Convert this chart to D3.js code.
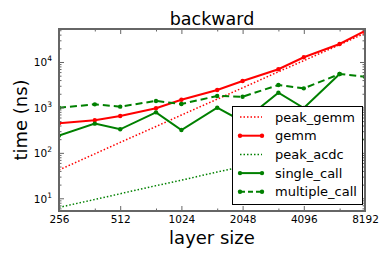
<!DOCTYPE html>
<html>
<head>
<meta charset="utf-8">
<script src="https://cdn.jsdelivr.net/npm/d3@7"></script>
<style>
  body { margin: 0; background: #fff; }
  text { font-family: "DejaVu Sans", sans-serif; }
</style>
</head>
<body>
<div id="chart"></div>
<script>
// layer sizes and measured times (ns)
var sizes = [256, 384, 512, 768, 1024, 1536, 2048, 3072, 4096, 6144, 8192];
var peakGemm = [42, 95, 170, 380, 680, 1520, 2700, 6100, 10700, 24000, 43000];
var gemm = [448, 521, 648, 958, 1480, 2420, 3820, 6920, 12700, 24900, 48200];
var peakAcdc = [6.3, 9.4, 12.6, 19, 25, 38, 50, 76, 100, 150, 200];
var singleCall = [240, 440, 330, 780, 318, 986, 490, 2110, 970, 5440, null];
var multipleCall = [986, 1170, 1040, 1390, 1190, 1790, 1720, 3120, 2630, 5440, 4750];

var xMajor = [256, 512, 1024, 2048, 4096, 8192];
var xMinor = [384, 768, 1536, 3072, 6144];
var yMajor = [10, 100, 1000, 10000];

(function () {
    var width = 390, height = 260;
    var plotLeft = 59, plotRight = 365, plotTop = 29, plotBottom = 211;

    var svg = d3.select("#chart").append("svg")
        .attr("width", width)
        .attr("height", height);

    var x = d3.scaleLog().base(2).domain([256, 8192]).range([plotLeft, plotRight]);
    var y = d3.scaleLog().domain([5.25, 53260]).range([plotBottom, plotTop]);

    var yMinor = [];
    [1, 10, 100, 1000, 10000].forEach(function (p) {
        for (var k = 2; k <= 9; k++) {
            var v = p * k;
            if (v > 5.25 && v < 53260) yMinor.push(v);
        }
    });

    svg.append("defs").append("clipPath").attr("id", "plot-clip")
        .append("rect")
        .attr("x", plotLeft).attr("y", plotTop)
        .attr("width", plotRight - plotLeft).attr("height", plotBottom - plotTop);

    var series = [
        {name: "peak_gemm", values: peakGemm, color: "#ff0000", dash: "1.5,2", width: 1.5, marker: false},
        {name: "gemm", values: gemm, color: "#ff0000", dash: null, width: 2, marker: true},
        {name: "peak_acdc", values: peakAcdc, color: "#008000", dash: "1.5,2", width: 1.5, marker: false},
        {name: "single_call", values: singleCall, color: "#008000", dash: null, width: 2, marker: true},
        {name: "multiple_call", values: multipleCall, color: "#008000", dash: "7,4", width: 2, marker: true}
    ];

    var line = d3.line()
        .defined(function (d) { return d.v != null; })
        .x(function (d) { return x(d.s); })
        .y(function (d) { return y(d.v); });

    var plot = svg.append("g").attr("clip-path", "url(#plot-clip)");

    series.forEach(function (s) {
        var pts = sizes.map(function (sz, i) { return {s: sz, v: s.values[i]}; });
        plot.append("path")
            .datum(pts)
            .attr("fill", "none")
            .attr("stroke", s.color)
            .attr("stroke-width", s.width)
            .attr("stroke-dasharray", s.dash)
            .attr("d", line);
        if (s.marker) {
            plot.selectAll(null)
                .data(pts.filter(function (d) { return d.v != null; }))
                .enter().append("circle")
                .attr("cx", function (d) { return x(d.s); })
                .attr("cy", function (d) { return y(d.v); })
                .attr("r", 2.2)
                .attr("fill", s.color);
        }
    });

    // axes (ticks point inward, on all four sides)
    var axisColor = "#666";

    function styleAxis(g) {
        g.select(".domain").remove();
        g.selectAll(".tick line").attr("stroke", axisColor).attr("stroke-width", 1);
    }

    svg.append("g").attr("transform", "translate(0," + plotBottom + ")")
        .call(d3.axisBottom(x).tickValues(xMajor).tickSize(-5).tickPadding(5)
            .tickFormat(d3.format("d")))
        .call(styleAxis)
        .call(function (g) {
            g.selectAll("text").attr("font-size", 10.5).attr("fill", "#000")
                .attr("font-family", "DejaVu Sans");
        });

    svg.append("g").attr("transform", "translate(0," + plotBottom + ")")
        .call(d3.axisBottom(x).tickValues(xMinor).tickSize(-2.5).tickFormat(""))
        .call(styleAxis);

    svg.append("g").attr("transform", "translate(0," + plotTop + ")")
        .call(d3.axisTop(x).tickValues(xMajor).tickSize(-5).tickFormat(""))
        .call(styleAxis);

    svg.append("g").attr("transform", "translate(0," + plotTop + ")")
        .call(d3.axisTop(x).tickValues(xMinor).tickSize(-2.5).tickFormat(""))
        .call(styleAxis);

    var yAxis = svg.append("g").attr("transform", "translate(" + plotLeft + ",0)")
        .call(d3.axisLeft(y).tickValues(yMajor).tickSize(-5).tickFormat(""))
        .call(styleAxis);

    yAxis.selectAll(".tick").each(function (d) {
        var t = d3.select(this).append("text")
            .attr("x", -7)
            .attr("y", 4)
            .attr("text-anchor", "end")
            .attr("fill", "#000")
            .attr("font-size", 10.5);
        t.append("tspan").text("10");
        t.append("tspan").attr("dy", -5).attr("font-size", 7.5)
            .text(Math.round(Math.log10(d)));
    });

    svg.append("g").attr("transform", "translate(" + plotLeft + ",0)")
        .call(d3.axisLeft(y).tickValues(yMinor).tickSize(-2.5).tickFormat(""))
        .call(styleAxis);

    svg.append("g").attr("transform", "translate(" + plotRight + ",0)")
        .call(d3.axisRight(y).tickValues(yMajor).tickSize(-5).tickFormat(""))
        .call(styleAxis);

    svg.append("g").attr("transform", "translate(" + plotRight + ",0)")
        .call(d3.axisRight(y).tickValues(yMinor).tickSize(-2.5).tickFormat(""))
        .call(styleAxis);

    svg.append("rect")
        .attr("x", plotLeft).attr("y", plotTop)
        .attr("width", plotRight - plotLeft).attr("height", plotBottom - plotTop)
        .attr("fill", "none")
        .attr("stroke", axisColor)
        .attr("stroke-width", 2);

    // titles
    svg.append("text")
        .attr("x", (plotLeft + plotRight) / 2).attr("y", 25)
        .attr("text-anchor", "middle")
        .attr("font-size", 17.5)
        .text("backward");

    svg.append("text")
        .attr("x", (plotLeft + plotRight) / 2).attr("y", 244)
        .attr("text-anchor", "middle")
        .attr("font-size", 18)
        .text("layer size");

    svg.append("text")
        .attr("transform", "translate(27," + ((plotTop + plotBottom) / 2) + ") rotate(-90)")
        .attr("text-anchor", "middle")
        .attr("font-size", 18)
        .text("time (ns)");

    // legend
    var legend = svg.append("g");
    legend.append("rect")
        .attr("x", 232.5).attr("y", 106.5)
        .attr("width", 130).attr("height", 98)
        .attr("fill", "#fff")
        .attr("stroke", "#000")
        .attr("stroke-width", 1);

    series.forEach(function (s, i) {
        var ly = 117 + i * 18.7;
        legend.append("line")
            .attr("x1", 240).attr("x2", 262)
            .attr("y1", ly).attr("y2", ly)
            .attr("stroke", s.color)
            .attr("stroke-width", s.width)
            .attr("stroke-dasharray", s.dash === "7,4" ? "5,3" : s.dash);
        if (s.marker) {
            [240, 262].forEach(function (mx) {
                legend.append("circle")
                    .attr("cx", mx).attr("cy", ly).attr("r", 2.2)
                    .attr("fill", s.color);
            });
        }
        legend.append("text")
            .attr("x", 275).attr("y", ly + 4.5)
            .attr("font-size", 13)
            .text(s.name);
    });
})();
</script>
</body>
</html>
